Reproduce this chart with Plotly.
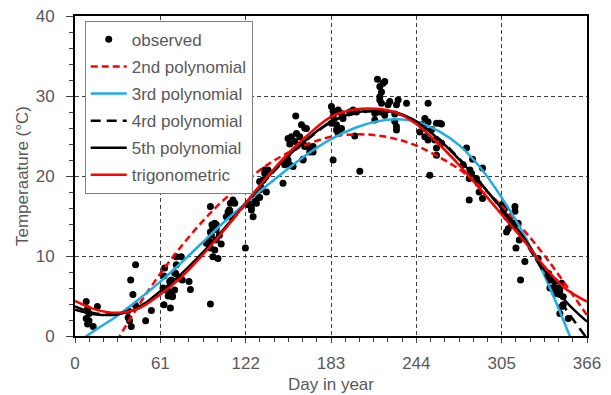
import plotly.graph_objects as go

obs_day = [8, 9, 8, 10, 9, 13, 16, 10,
           39.8, 43.3, 41.4, 38, 39, 40.2, 38, 43.3, 50.5, 54.6,
           64.1, 63.6, 62.9, 64.1, 63.6, 67.7, 66.6, 68.2, 68.9, 69.7, 71.2, 71.2, 72.4, 72.4, 76, 74.8, 76.7, 81.5, 82.5, 66.8, 67.7, 72, 69.6,
           96.8, 97.9, 96.8, 97.5, 93.9, 95.8, 96.8, 99.9, 98.6, 102.2, 96.8, 101, 103.2, 108.2, 109.4, 110.6, 111.1, 112.9, 99.9, 98.6, 101, 96.3, 101, 104.5, 110.6, 111.8, 114.2, 111.8, 110.2,
           121.8, 123.7, 126, 129.7, 132, 133.3, 134.4, 135.6, 123.7, 126.1, 127.3, 128.5, 130.8, 132, 132, 135.6, 138, 136.8,
           148.7, 149.9, 152.3, 153.5, 152.3, 154.7, 153.5, 157.1, 158.3, 157.8, 161.9, 164.2, 164.2, 167.8, 170.2, 163, 155.9, 165.4, 163, 166.6, 167.8, 170.2, 160.7, 163,
           183.3, 184.5, 188.1, 190.5, 184.5, 183.3, 186.9, 191.6, 186.9, 190.5, 188.1, 184.5, 196.4, 201.2, 198.8, 200, 203.6,
           214.3, 214.3, 217.9, 219.1, 217.9, 219.1, 217.9, 220.2, 216.2, 221.4, 217.9, 223.8, 225, 221.4, 228.6, 229.8, 231, 237, 228.6, 229.8, 229.8,
           252.4, 250.1, 252.4, 247.7, 246.5, 250.1, 252.4, 258.4, 260.8, 257.2, 258.4, 258.4, 253.6, 262, 262, 249, 255,
           279.9, 284.2, 291.3, 277.5, 282.3, 283.5, 281.8, 287, 288.2, 288.9, 291.3, 281.8,
           305, 307.4, 306.2, 314.5, 314.5, 308.5, 310.9, 312.1, 314.5, 316.8, 308.5, 309.7, 317.6, 315.2, 321.6, 318.5,
           331.1, 338.3, 340.7, 343.1, 339.5, 345.4, 343.1, 346.6, 349, 346.6, 352.6, 338.6, 341.9, 347.9, 346.6, 349, 347.9]
obs_temp = [4.3, 3.4, 2.2, 1.9, 1.5, 1.2, 3.7, 2.8,
            7.0, 8.9, 5.2, 3.2, 1.9, 1.2, 2.3, 3.8, 1.9, 3.2,
            8.5, 7.5, 6.0, 5.8, 3.9, 5.3, 5.0, 3.5, 7.0, 5.0, 5.75, 7.9, 8.9, 9.9, 9.9, 7.2, 7.0, 6.8, 5.8, 5.6, 6.8, 7.8, 4.9,
            16.2, 13.9, 13.0, 12.6, 11.6, 11.4, 11.0, 10.75, 9.9, 9.7, 4.0, 13.9, 12.6, 14.9, 15.5, 15.2, 16.6, 17.0, 14.1, 13.5, 13.3, 11.8, 12.0, 11.5, 15.7, 15.1, 16.6, 14.9, 15.75,
            11.0, 16.6, 16.1, 16.6, 17.3, 18.5, 19.5, 20.3, 16.4, 15.75, 14.9, 16.8, 17.4, 18.25, 19.3, 20.75, 20.75, 18.0,
            19.1, 21.4, 22.0, 21.4, 24.7, 24.9, 24.0, 24.3, 25.3, 27.5, 26.4, 26.0, 23.7, 23.5, 23.7, 22.0, 21.2, 25.95, 24.1, 23.75, 23.0, 23.0, 24.9, 22.1,
            28.7, 28.1, 28.25, 27.8, 27.4, 26.6, 26.4, 27.2, 25.75, 25.95, 25.3, 22.0, 28.0, 28.0, 28.25, 25.0, 20.6,
            27.0, 27.8, 28.0, 29.1, 29.9, 30.5, 31.2, 31.6, 32.1, 31.8, 29.5, 28.9, 29.3, 27.6, 27.75, 28.9, 29.5, 29.1, 26.8, 26.2, 25.75,
            29.1, 27.2, 26.75, 26.4, 25.5, 24.9, 24.5, 26.6, 26.6, 24.5, 23.5, 22.6, 20.1, 26.5, 24.1, 26.0, 25.8,
            23.5, 22.1, 21.0, 21.4, 20.75, 20.3, 19.7, 19.7, 19.1, 18.0, 17.2, 17.0,
            16.4, 16.0, 15.6, 16.2, 15.6, 14.9, 14.5, 13.9, 14.1, 14.1, 13.0, 13.4, 12.0, 11.0, 9.3, 7.0,
            9.7, 7.6, 7.0, 6.8, 6.0, 6.0, 5.3, 5.2, 3.9, 2.8, 2.2, 7.8, 6.0, 6.6, 5.75, 4.9, 3.7]

# ---- fitted curves, values ----
fit_day = [0, 15, 30, 45, 61, 75, 90, 105, 122, 135, 150, 165, 183, 200, 215, 230, 244, 260, 275, 290, 305, 320, 335, 350, 366]
poly2 = [-10.3, -5.3, -0.6, 3.7, 7.8, 11.0, 14.1, 16.8, 19.3, 21.1, 22.7, 23.9, 24.9, 25.2, 25.1, 24.6, 23.8, 22.4, 20.8, 18.7, 16.3, 13.4, 10.2, 6.6, 2.6]
poly3 = [-1.0, 0.8, 2.5, 4.5, 6.8, 9.0, 11.5, 14.0, 16.6, 18.5, 20.6, 22.6, 24.6, 26.0, 26.8, 27.1, 26.8, 25.6, 23.8, 21.0, 17.3, 13.0, 7.8, 1.6, -5.5]
poly4 = [3.7, 2.8, 2.8, 3.6, 5.5, 7.5, 10.1, 13.0, 16.5, 19.2, 22.0, 24.4, 26.7, 27.8, 28.1, 27.8, 26.8, 24.7, 22.1, 19.1, 15.8, 12.2, 8.0, 3.6, -0.3]
poly5 = [3.3, 2.7, 2.7, 3.5, 5.6, 7.6, 10.2, 13.1, 16.6, 19.3, 22.1, 24.5, 26.8, 27.9, 28.2, 27.9, 26.8, 24.6, 22.0, 19.1, 15.9, 12.5, 8.4, 4.5, 1.8]
trig = [4.4, 3.3, 2.9, 3.4, 5.2, 7.2, 9.9, 12.9, 16.6, 19.4, 22.4, 24.9, 27.4, 28.3, 28.4, 27.9, 26.5, 24.0, 21.3, 18.3, 15.2, 12.1, 8.8, 6.0, 4.3]

x_ticks = [0, 61, 122, 183, 244, 305, 366]
y_ticks = [0, 10, 20, 30, 40]

FONT = "Liberation Sans, Arial, sans-serif"
GRAY = "#595959"
FS = 17

fig = go.Figure()
fig.add_trace(go.Scatter(x=obs_day, y=obs_temp, mode="markers", name="observed",
                         marker=dict(color="black", size=7), legendgroup="a"))
fig.add_trace(go.Scatter(x=fit_day, y=poly2, mode="lines", name="2nd polynomial",
                         line=dict(color="#FF0000", width=2.5, dash="7px,4px", shape="spline"), legendgroup="b"))
fig.add_trace(go.Scatter(x=fit_day, y=poly3, mode="lines", name="3rd polynomial",
                         line=dict(color="#1DAEE6", width=2.5, shape="spline"), legendgroup="c"))
fig.add_trace(go.Scatter(x=fit_day, y=poly4, mode="lines", name="4rd polynomial",
                         line=dict(color="black", width=2.5, dash="10px,6px", shape="spline"), legendgroup="d"))
fig.add_trace(go.Scatter(x=fit_day, y=poly5, mode="lines", name="5th polynomial",
                         line=dict(color="black", width=2.5, shape="spline"), legendgroup="e"))
fig.add_trace(go.Scatter(x=fit_day, y=trig, mode="lines", name="trigonometric",
                         line=dict(color="#FF0000", width=2.5, shape="spline"), legendgroup="f"))

# The page body has an 8px default margin, so the figure is sized and
# offset to land the plot area where the reference has it.
fig.update_layout(
    width=603, height=387,
    margin=dict(l=67, r=24, t=8, b=59),
    paper_bgcolor="white", plot_bgcolor="white",
    font=dict(family=FONT, size=FS, color=GRAY),
    showlegend=True,
    legend=dict(x=0.019, y=0.985, xanchor="left", yanchor="top",
                bgcolor="white", bordercolor="#7f7f7f", borderwidth=1,
                font=dict(family=FONT, size=FS, color=GRAY),
                tracegroupgap=2, itemwidth=36),
)
fig.update_xaxes(
    range=[0, 366], tickvals=x_ticks, ticktext=[str(v) for v in x_ticks],
    automargin=False, ticklabeloverflow="allow",
    showline=True, linecolor="black", linewidth=2, mirror=True,
    ticks="outside", ticklen=5, tickcolor="#404040", tickwidth=1,
    ticklabelstandoff=6,
    minor=dict(dtick=61 / 6, tick0=0, ticks="outside", ticklen=4, tickcolor="#404040", showgrid=False),
    showgrid=True, gridcolor="#404040", gridwidth=1, griddash="4px,3px",
    zeroline=False,
    title=dict(text="Day in year", standoff=6, font=dict(family=FONT, size=FS, color=GRAY)),
)
fig.update_yaxes(
    range=[0, 40], tickvals=y_ticks, ticktext=[str(v) for v in y_ticks],
    automargin=False, ticklabeloverflow="allow",
    showline=True, linecolor="black", linewidth=2, mirror=True,
    ticks="outside", ticklen=7, tickcolor="#404040", tickwidth=1,
    ticklabelstandoff=8,
    minor=dict(dtick=2, ticks="outside", ticklen=4, tickcolor="#404040", showgrid=False),
    showgrid=True, gridcolor="#404040", gridwidth=1, griddash="4px,3px",
    zeroline=False,
    title=dict(text="Temperaature (°C)", standoff=3, font=dict(family=FONT, size=FS, color=GRAY)),
)

fig.write_html("out.html")
